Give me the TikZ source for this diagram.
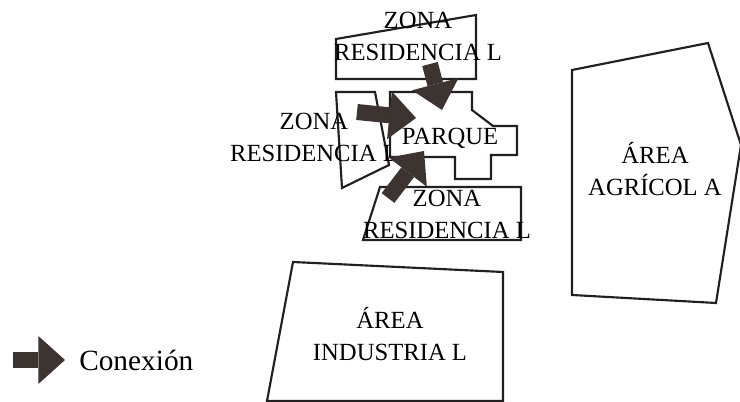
\documentclass[tikz,border=0pt]{standalone}
\usepackage{fontspec}
\setmainfont{Liberation Serif}
\usetikzlibrary{arrows.meta}
\definecolor{flechagris}{HTML}{3B3431}
\definecolor{borde}{HTML}{231F20}
\begin{document}
\begin{tikzpicture}[x=0.75pt,y=-0.75pt,
   zona/.style={draw=borde,line width=1.6pt,line join=miter},
   rotulo/.style={align=center,inner sep=0pt,font=\fontsize{18.5}{24}\selectfont},
   conexion/.style={draw=flechagris,line width=12pt,
      -{Triangle[width=36pt,length=20pt,line width=0pt,fill=flechagris]}}]
   \useasboundingbox (0,0) rectangle (740,402);

   % zonas
   \draw[zona] (336,39) -- (476,15) -- (476,79) -- (336,79) -- cycle;
   \draw[zona] (336,92) -- (375,92) -- (389,165) -- (342,188) -- cycle;
   \draw[zona] (380,187) -- (521,187) -- (521,240) -- (363,240) -- cycle;
   \draw[zona] (390,92) -- (472,92) -- (472,110) -- (493,126) -- (517,126)
   -- (517,155) -- (491,155) -- (491,179) -- (455,179) -- (455,157)
   -- (390,157) -- cycle;
   \draw[zona] (572,70) -- (708,43) -- (741,145) -- (716,303) -- (572,295) -- cycle;
   \draw[zona] (293,262) -- (503,272) -- (503,401) -- (267,401) -- cycle;

   \node[rotulo] (zonaNorte) at (418,36) {ZONA\\RESIDENCIA L};
   \node[rotulo] (zonaOeste) at (314,137) {ZONA\\RESIDENCIA L};
   \node[rotulo] (zonaSur) at (447,214) {ZONA\\RESIDENCIA L};
   \node[rotulo] (parque) at (450,138) {PARQUE};
   \node[rotulo] (agricola) at (655,169) {ÁREA\\AGRÍCOL A};
   \node[rotulo] (industrial) at (390,334) {ÁREA\\INDUSTRIA L};

   % conexiones
   \coordinate (colaNorte) at (430,64);
   \coordinate (puntaNorte) at (442,110);
   \coordinate (colaOeste) at (357,112);
   \coordinate (puntaOeste) at (416,118);
   \coordinate (colaSur) at (388,198);
   \coordinate (puntaSur) at (424,151);
   \draw[conexion] (colaNorte) -- (puntaNorte);
   \draw[conexion] (colaOeste) -- (puntaOeste);
   \draw[conexion] (colaSur) -- (puntaSur);

   % leyenda
   \coordinate (colaLeyenda) at (13,360);
   \node[rotulo,anchor=west,font=\fontsize{22}{24}\selectfont] (leyenda) at (79,360) {Conexión};
   \draw[conexion] (colaLeyenda) -- (leyenda.west -| 65,0);
\end{tikzpicture}
\end{document}
